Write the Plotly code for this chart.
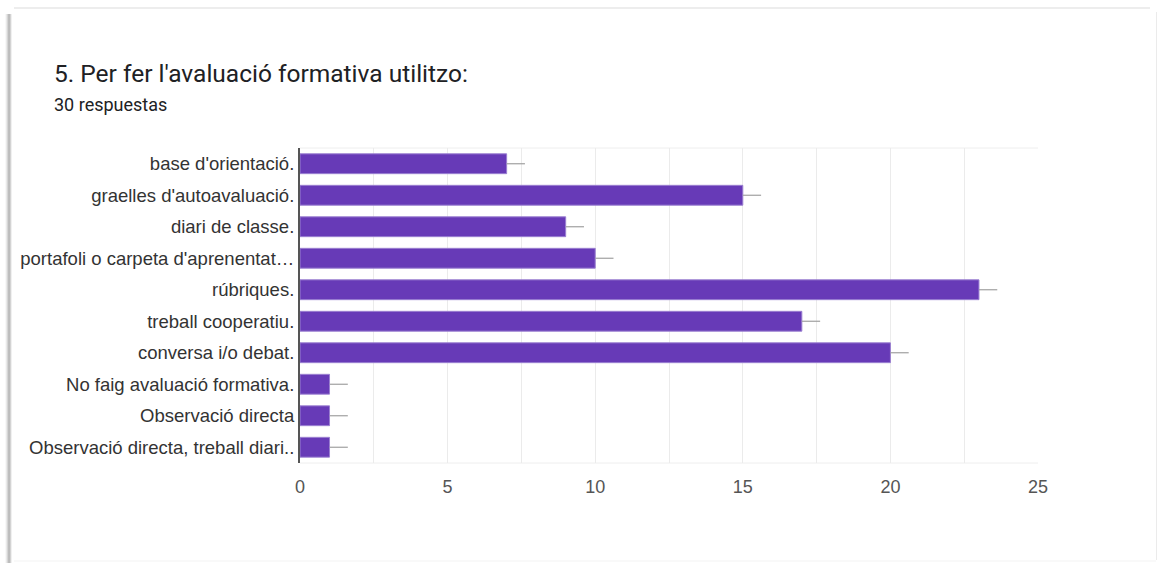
import plotly.graph_objects as go

categories = [
    "base d'orientació.",
    "graelles d'autoavaluació.",
    "diari de classe.",
    "portafoli o carpeta d'aprenentat…",
    "rúbriques.",
    "treball cooperatiu.",
    "conversa i/o debat.",
    "No faig avaluació formativa.",
    "Observació directa",
    "Observació directa, treball diari..",
]
counts = [7, 15, 9, 10, 23, 17, 20, 1, 1, 1]
x_ticks = [0, 5, 10, 15, 20, 25]

W, H = 1158, 563
L, R, T, B = 300, 1038, 148, 463

fig = go.Figure()
fig.add_trace(go.Bar(
    y=categories,
    x=counts,
    orientation="h",
    marker=dict(color="#673ab7", line=dict(color="#9a7fd1", width=1)),
    error_x=dict(type="constant", value=0.62, symmetric=False, valueminus=0,
                 color="#a0a0a0", thickness=1.2, width=0),
    hoverinfo="x+y",
))

def px(x):
    return (x - L) / (R - L)

def py(y):
    return (B - y) / (B - T)

shapes = []
# card shadow / borders
for i, op in enumerate([0.06, 0.12, 0.22, 0.32, 0.24, 0.12]):
    xx = 6 + i
    shapes.append(dict(type="line", xref="paper", yref="paper",
                       x0=px(xx), x1=px(xx), y0=py(14), y1=py(563),
                       line=dict(color=f"rgba(0,0,0,{op})", width=1)))
shapes.append(dict(type="line", xref="paper", yref="paper",
                   x0=px(14), x1=px(1150), y0=py(8), y1=py(8),
                   line=dict(color="rgba(0,0,0,0.07)", width=2)))
shapes.append(dict(type="line", xref="paper", yref="paper",
                   x0=px(1156.5), x1=px(1156.5), y0=py(12), y1=py(560),
                   line=dict(color="rgba(0,0,0,0.08)", width=1)))
shapes.append(dict(type="line", xref="paper", yref="paper",
                   x0=px(14), x1=px(1156), y0=py(561), y1=py(561),
                   line=dict(color="rgba(0,0,0,0.05)", width=1)))
# plot area top and bottom borders
shapes.append(dict(type="line", xref="paper", yref="paper",
                   x0=0, x1=1, y0=1, y1=1,
                   line=dict(color="#eeeeee", width=1), layer="below"))
shapes.append(dict(type="line", xref="paper", yref="paper",
                   x0=0, x1=1, y0=0, y1=0,
                   line=dict(color="#eeeeee", width=1), layer="below"))

annotations = [
    dict(text="5. Per fer l'avaluació formativa utilitzo:", xref="paper", yref="paper",
         x=px(52), y=py(74), xanchor="left", yanchor="middle", showarrow=False,
         font=dict(family="Roboto", size=24.5, color="#202124")),
    dict(text="30 respuestas", xref="paper", yref="paper",
         x=px(52), y=py(104), xanchor="left", yanchor="middle", showarrow=False,
         font=dict(family="Roboto", size=18, color="#202124")),
]

fig.update_layout(
    width=W, height=H,
    margin=dict(l=L, r=W - R, t=T, b=H - B, pad=0),
    paper_bgcolor="white", plot_bgcolor="white",
    bargap=0.37,
    showlegend=False,
    shapes=shapes,
    annotations=annotations,
    xaxis=dict(range=[0, 25], tickvals=x_ticks, showgrid=True, gridcolor="#ebebeb",
               minor=dict(dtick=2.5, showgrid=True, gridcolor="#ebebeb", ticks=""),
               zeroline=False, showline=False, ticks="", ticklen=0,
               ticklabelstandoff=11,
               tickfont=dict(family="Liberation Sans, Arial", size=18, color="#555555"),
               fixedrange=True),
    yaxis=dict(categoryorder="array", categoryarray=categories, autorange="reversed",
               showgrid=False, zeroline=False, showline=True, linecolor="#555555", linewidth=2,
               ticks="", ticklen=0, ticklabelstandoff=0,
               tickfont=dict(family="Liberation Sans, Arial", size=18.5, color="#333333"),
               fixedrange=True),
)

fig.write_html("out.html", config={"displayModeBar": False},
               post_script="document.body.style.margin='0';document.body.style.overflow='hidden';")
